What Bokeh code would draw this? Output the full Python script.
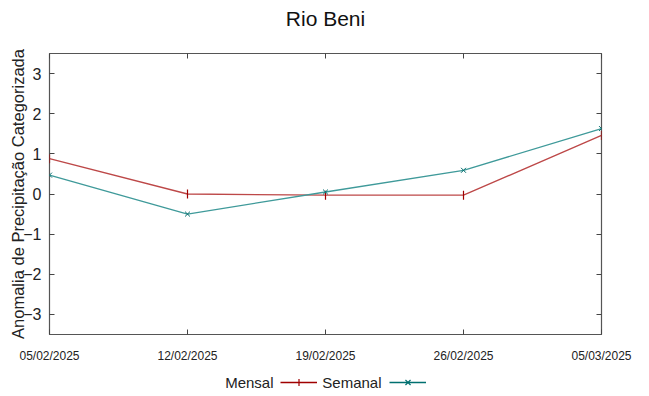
from datetime import datetime
from bokeh.plotting import figure
from bokeh.layouts import column
from bokeh.models import (Range1d, FixedTicker, DatetimeAxis, LinearAxis, DatetimeTickFormatter,
                          Legend, LegendItem, Label, ColumnDataSource)
from bokeh.embed import file_html
from bokeh.resources import INLINE

dates = [datetime(2025, 2, 5), datetime(2025, 2, 12), datetime(2025, 2, 19),
         datetime(2025, 2, 26), datetime(2025, 3, 5)]
mensal = [0.88, 0.0, -0.03, -0.03, 1.46]
semanal = [0.47, -0.50, 0.05, 0.59, 1.63]
y_ticks = [-3, -2, -1, 0, 1, 2, 3]
title_text = "Rio Beni"
y_label = "Anomalia de Precipitação Categorizada"
series_names = ["Mensal", "Semanal"]

FONT = "Liberation Sans"
date_ms = [d.timestamp() * 1000 for d in dates]

def strip(h):
    f = figure(width=649, height=h, output_backend="svg", toolbar_location=None,
               x_axis_type=None, y_axis_type=None, x_range=Range1d(0, 1), y_range=Range1d(0, 1),
               min_border=0, min_border_left=0, min_border_right=0, min_border_top=0,
               min_border_bottom=0)
    f.outline_line_color = None
    f.xgrid.visible = False
    f.ygrid.visible = False
    return f

# title strip (column layout aligns its frame with the main plot's frame, left edge at 49px)
tf = strip(40)
tf.add_layout(Label(x=276, y=22, x_units="screen", y_units="screen", text=title_text,
                    anchor="center", text_align="center", text_baseline="middle",
                    text_font=FONT, text_font_size="21px", text_color="#111111"))

p = figure(width=649, height=325, output_backend="svg", toolbar_location=None,
           x_axis_type=None, y_axis_type=None,
           x_range=Range1d(date_ms[0], date_ms[-1]), y_range=Range1d(-3.5, 3.5),
           min_border_left=49, min_border_right=48, min_border_top=13, min_border_bottom=30)

fmt = DatetimeTickFormatter(days="%d/%m/%Y", months="%d/%m/%Y", hours="%d/%m/%Y",
                            years="%d/%m/%Y", milliseconds="%d/%m/%Y", seconds="%d/%m/%Y",
                            minsec="%d/%m/%Y", minutes="%d/%m/%Y", hourmin="%d/%m/%Y")

def style_axis(ax, labels=True):
    ax.axis_line_color = None
    ax.major_tick_in = 5
    ax.major_tick_out = 0
    ax.major_tick_line_color = "#444444"
    ax.minor_tick_line_color = None
    if not labels:
        ax.major_label_text_font_size = "1px"
        ax.major_label_text_alpha = 0
        ax.major_label_standoff = 0

xb = DatetimeAxis(ticker=FixedTicker(ticks=date_ms), formatter=fmt)
style_axis(xb)
xb.major_label_text_font = FONT
xb.major_label_text_font_size = "12px"
xb.major_label_text_color = "#222222"
xb.major_label_standoff = 14
p.add_layout(xb, "below")

xt = DatetimeAxis(ticker=FixedTicker(ticks=date_ms), formatter=fmt)
style_axis(xt, labels=False)
p.add_layout(xt, "above")

yl = LinearAxis(ticker=FixedTicker(ticks=y_ticks))
style_axis(yl)
yl.major_label_text_font = FONT
yl.major_label_text_font_size = "16px"
yl.major_label_text_color = "#222222"
yl.major_label_standoff = 8
yl.axis_label = y_label
yl.axis_label_text_font = FONT
yl.axis_label_text_font_size = "16.5px"
yl.axis_label_text_font_style = "normal"
yl.axis_label_text_color = "#222222"
yl.axis_label_standoff = -7
p.add_layout(yl, "left")

yr = LinearAxis(ticker=FixedTicker(ticks=y_ticks))
style_axis(yr, labels=False)
p.add_layout(yr, "right")

p.ygrid.ticker = FixedTicker(ticks=y_ticks)
p.ygrid.grid_line_color = "#aaaaaa"
p.ygrid.grid_line_dash = "1 2"
p.ygrid.grid_line_width = 1
p.xgrid.grid_line_color = None

p.outline_line_color = "#555555"
p.outline_line_width = 1.2

src = ColumnDataSource(dict(x=date_ms, m=mensal, s=semanal))
p.line("x", "m", source=src, line_color="#bd4848", line_width=1.3)
p.scatter("x", "m", source=src, marker="dash", size=9, angle=1.5708, line_color="#a00000", line_width=1.2)
p.line("x", "s", source=src, line_color="#3f9a9a", line_width=1.3)
p.scatter("x", "s", source=src, marker="x", size=7, line_color="#0a7070", line_width=1.0)

# legend strip (renderers use the series data; they lie outside the strip's range)
lf = strip(31)
src2 = ColumnDataSource(dict(x=date_ms, m=mensal, s=semanal))
lm = lf.line("x", "m", source=src2, line_color="#a00000", line_width=1.3)
sm = lf.scatter("x", "m", source=src2, marker="cross", size=9, line_color="#a00000", line_width=1.2)
ls = lf.line("x", "s", source=src2, line_color="#007070", line_width=1.3)
ss = lf.scatter("x", "s", source=src2, marker="x", size=9, line_color="#007070", line_width=1.2)

def mk_legend(rs, x):
    lg = Legend(items=[LegendItem(label=" ", renderers=rs)], location=(x, 5),
                padding=0, margin=0, border_line_color=None, background_fill_alpha=0,
                glyph_width=37, glyph_height=18, label_standoff=0, label_width=0,
                label_text_font_size="1px", label_height=0)
    lf.add_layout(lg, "center")

mk_legend([lm, sm], 231)
mk_legend([ls, ss], 340)

for name, xr in zip(series_names, [224, 332]):
    lf.add_layout(Label(x=xr, y=14, x_units="screen", y_units="screen", text=name,
                        anchor="center_right", text_align="right", text_baseline="middle",
                        text_font=FONT, text_font_size="15px", text_color="#222222"))

open("out.html", "w").write(file_html(column(tf, p, lf, spacing=0), INLINE))
